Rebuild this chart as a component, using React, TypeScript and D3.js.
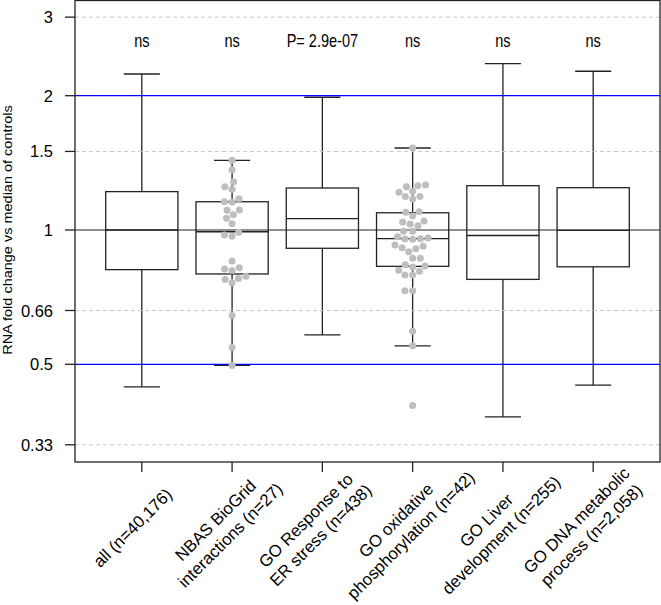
import React from "react";
import * as d3 from "d3";

const W = 661;
const H = 605;

const categories: string[][] = [
  ["all (n=40,176)"],
  ["NBAS BioGrid", "interactions (n=27)"],
  ["GO Response to", "ER stress (n=438)"],
  ["GO oxidative", "phosphorylation (n=42)"],
  ["GO Liver", "development (n=255)"],
  ["GO DNA metabolic", "process (n=2,058)"],
];
const annotations = ["ns", "ns", "P= 2.9e-07", "ns", "ns", "ns"];

// box statistics: [lower whisker, Q1, median, Q3, upper whisker]
const whiskLow = [0.445, 0.497, 0.582, 0.55, 0.381, 0.449];
const q1 = [0.815, 0.797, 0.91, 0.829, 0.775, 0.827];
const medians = [1.0, 0.991, 1.06, 0.956, 0.972, 0.998];
const q3 = [1.219, 1.157, 1.242, 1.093, 1.257, 1.244];
const whiskHigh = [2.237, 1.433, 1.984, 1.527, 2.359, 2.269];

const nbasPoints = [
  1.433, 1.365, 1.283, 1.25, 1.234, 1.175, 1.155, 1.157, 1.107, 1.109, 1.082,
  1.062, 1.033, 0.988, 0.968, 0.974, 0.852, 0.823, 0.811, 0.818, 0.788, 0.779,
  0.762, 0.775, 0.643, 0.545, 0.497,
];
const oxphosPoints = [
  1.527, 1.261, 1.25, 1.257, 1.221, 1.215, 1.188, 1.173, 1.188, 1.099, 1.096,
  1.075, 1.042, 1.022, 1.031, 1.047, 0.993, 0.993, 0.966, 0.955, 0.953, 0.956,
  0.959, 0.926, 0.913, 0.894, 0.908, 0.919, 0.864, 0.864, 0.83, 0.826, 0.836,
  0.808, 0.793, 0.793, 0.812, 0.731, 0.731, 0.593, 0.55, 0.404,
];

const yTicks = [3, 2, 1.5, 1, 0.66, 0.5, 0.33];
const yTickLabels = ["3", "2", "1.5", "1", "0.66", "0.5", "0.33"];
const dashedLevels = [3, 1.5, 0.66, 0.33];
const blueLevels = [2, 0.5];
const refLevel = 1;
const yTitle = "RNA fold change vs median of controls";

const FONT = "'Liberation Sans', Arial, Helvetica, sans-serif";
const plotL = 75;
const plotR = 660;
const plotT = 0;
const plotB = 462;

const x = d3.scaleLinear().domain([0.26, 6.74]).range([plotL, plotR]);
const y = d3
  .scaleLog()
  .base(2)
  .domain([Math.pow(2, -1.7275), Math.pow(2, 1.7126)])
  .range([plotB, plotT]);

function swarm(values: number[], d: number): { x: number; y: number }[] {
  const order = values
    .map((v, i) => ({ v, i, y: y(v) }))
    .sort((a, b) => a.v - b.v);
  const placed: { x: number; y: number }[] = [];
  for (const p of order) {
    const cands = [0];
    for (const q of placed) {
      const dy = Math.abs(q.y - p.y);
      if (dy < d) {
        const dx = Math.sqrt(d * d - dy * dy);
        cands.push(q.x + dx, q.x - dx);
      }
    }
    const ok = cands.filter((c) =>
      placed.every((q) => (q.x - c) ** 2 + (q.y - p.y) ** 2 >= d * d - 0.01)
    );
    ok.sort((a, b) => Math.abs(a) - Math.abs(b) || a - b);
    placed.push({ x: ok[0], y: p.y });
  }
  return placed;
}

const swarms: { idx: number; pts: number[] }[] = [
  { idx: 1, pts: nbasPoints },
  { idx: 3, pts: oxphosPoints },
];

export default function App() {
  const bw = (x(1.4) - x(0.6)) / 2;
  const cap = bw / 2;
  const stroke = "#222";
  const sw = 1.3;
  const txt = "#000";
  return (
    <svg
      width={W}
      height={H}
      style={{ position: "absolute", left: 0, top: 0, background: "#fff" }}
      fontFamily={FONT}
    >
      <rect x={0} y={0} width={W} height={H} fill="#fff" />
      {/* boxes */}
      {medians.map((m, i) => {
        const cx = x(i + 1);
        return (
          <g key={"b" + i} stroke={stroke} strokeWidth={sw} fill="none">
            <line x1={cx} x2={cx} y1={y(q3[i])} y2={y(whiskHigh[i])} />
            <line x1={cx} x2={cx} y1={y(q1[i])} y2={y(whiskLow[i])} />
            <line x1={cx - cap} x2={cx + cap} y1={y(whiskHigh[i])} y2={y(whiskHigh[i])} />
            <line x1={cx - cap} x2={cx + cap} y1={y(whiskLow[i])} y2={y(whiskLow[i])} />
            <rect x={cx - bw} y={y(q3[i])} width={2 * bw} height={y(q1[i]) - y(q3[i])} fill="#fff" />
            <line x1={cx - bw} x2={cx + bw} y1={y(m)} y2={y(m)} />
          </g>
        );
      })}
      {/* reference lines */}
      {dashedLevels.map((v) => (
        <line key={"d" + v} x1={plotL} x2={plotR} y1={y(v)} y2={y(v)} stroke="#c8c8c8" strokeWidth={1} strokeDasharray="4,3" />
      ))}
      {blueLevels.map((v) => (
        <line key={"bl" + v} x1={plotL} x2={plotR} y1={y(v)} y2={y(v)} stroke="#0000ff" strokeWidth={1.3} />
      ))}
      <line x1={plotL} x2={plotR} y1={y(refLevel)} y2={y(refLevel)} stroke="#222" strokeWidth={1.1} />
      {/* swarm points */}
      {swarms.map((s) => {
        const pts = swarm(s.pts, 7.7);
        return pts.map((p, j) => (
          <circle key={"p" + s.idx + "-" + j} cx={x(s.idx + 1) + p.x} cy={p.y} r={3.5} fill="#bebebe" />
        ));
      })}
      {/* frame */}
      <rect x={plotL} y={plotT + 0.5} width={plotR - plotL} height={plotB - plotT - 0.5} fill="none" stroke={stroke} strokeWidth={sw} />
      {/* y axis */}
      {yTicks.map((t, i) => (
        <g key={"yt" + t}>
          <line x1={plotL - 10} x2={plotL} y1={y(t)} y2={y(t)} stroke={stroke} strokeWidth={sw} />
          <text x={53} y={y(t)} textAnchor="end" dominantBaseline="central" fontSize={16.5} fill={txt}>
            {yTickLabels[i]}
          </text>
        </g>
      ))}
      <text transform={`translate(8,${y(1)}) scale(0.9,1) rotate(-90)`} textAnchor="middle" dominantBaseline="central" fontSize={14.5} fill={txt}>
        {yTitle}
      </text>
      {/* x axis */}
      {categories.map((lines, i) => {
        const cx = x(i + 1);
        return (
          <g key={"xt" + i}>
            <line x1={cx} x2={cx} y1={plotB} y2={plotB + 10} stroke={stroke} strokeWidth={sw} />
            <g transform={`translate(${cx - 9},528) rotate(-45)`}>
              {lines.map((ln, j) => (
                <text key={j} x={0} y={(j - (lines.length - 1) / 2) * 21} textAnchor="middle" dominantBaseline="central" fontSize={16.8} fill={txt}>
                  {ln}
                </text>
              ))}
            </g>
          </g>
        );
      })}
      {/* annotations */}
      {annotations.map((a, i) => (
        <text key={"a" + i} transform={`translate(${x(i + 1)},47) scale(0.83,1)`} textAnchor="middle" fontSize={17.5} fill={txt}>
          {a}
        </text>
      ))}
    </svg>
  );
}
